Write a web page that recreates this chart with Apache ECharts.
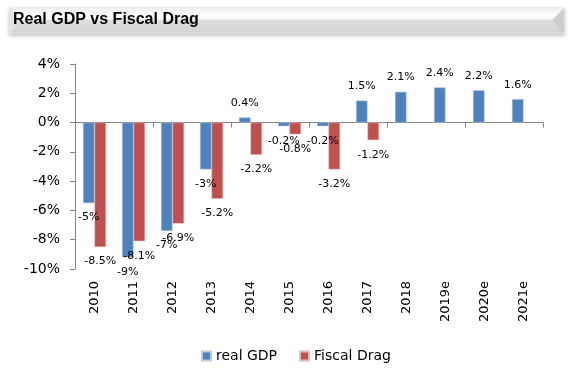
<!DOCTYPE html>
<html>
<head>
<meta charset="utf-8">
<script src="https://cdn.jsdelivr.net/npm/echarts@6/dist/echarts.min.js"></script>
<style>
html,body{margin:0;padding:0;background:#fff;}
#c{width:579px;height:371px;}
</style>
</head>
<body>
<div id="c"></div>
<script>
var categories = ['2010','2011','2012','2013','2014','2015','2016','2017','2018','2019e','2020e','2021e'];
var gdpValues = [-5.5, -9.2, -7.4, -3.2, 0.35, -0.25, -0.25, 1.5, 2.1, 2.4, 2.2, 1.6];
var gdpLabels = ['-5%','-9%','-7%','-3%','0.4%','-0.2%','-0.2%','1.5%','2.1%','2.4%','2.2%','1.6%'];
var fiscalValues = [-8.5, -8.1, -6.9, -5.2, -2.2, -0.8, -3.2, -1.2, null, null, null, null];
var fiscalLabels = ['-8.5%','-8.1%','-6.9%','-5.2%','-2.2%','-0.8%','-3.2%','-1.2%','','','',''];
var yTicks = {min: -10, max: 4, interval: 2};

var FONT = 'DejaVu Sans';
var chart = echarts.init(document.getElementById('c'), null, {renderer: 'canvas'});

function labelFor(labels) {
  return {
    show: true,
    fontFamily: FONT,
    fontSize: 11,
    color: '#000',
    distance: 9,
    formatter: function (p) { return labels[p.dataIndex]; }
  };
}
function mkData(vals) {
  return vals.map(function (v) {
    if (v === null) return null;
    return {value: v, label: {position: v < 0 ? 'bottom' : 'top'}};
  });
}

var option = {
  animation: false,
  backgroundColor: '#ffffff',
  graphic: [
    {
      type: 'rect',
      shape: {x: 10, y: 8, width: 554, height: 25},
      style: {
        fill: new echarts.graphic.LinearGradient(0, 0, 0, 1, [
          {offset: 0, color: '#ffffff'},
          {offset: 0.44, color: '#fafafa'},
          {offset: 0.5, color: '#dedede'},
          {offset: 1, color: '#d4d4d4'}
        ]),
        stroke: '#e8e8e8',
        lineWidth: 1,
        shadowBlur: 4,
        shadowOffsetY: 2,
        shadowColor: 'rgba(0,0,0,0.25)'
      },
      z: 10
    },
    {
      type: 'polygon',
      shape: {points: [[564, 8], [564, 33], [552, 20]]},
      style: {fill: '#cdcdcd'},
      z: 11
    },
    {
      type: 'polygon',
      shape: {points: [[10, 8], [10, 33], [14, 29], [14, 12]]},
      style: {fill: '#e4e4e4'},
      z: 11
    },
    {
      type: 'text',
      left: 13,
      top: 12,
      style: {
        text: 'Real GDP vs Fiscal Drag',
        fontFamily: 'Liberation Sans',
        fontWeight: 'bold',
        fontSize: 16,
        fill: '#000'
      },
      z: 12
    }
  ],
  legend: {
    left: 196,
    top: 344,
    itemWidth: 9,
    itemHeight: 9,
    itemGap: 22,
    icon: 'rect',
    textStyle: {fontFamily: FONT, fontSize: 14, color: '#000', padding: [0, 0, 0, 0]},
    data: ['real GDP', 'Fiscal Drag']
  },
  grid: {left: 75, right: 36, top: 64, bottom: 102, containLabel: false},
  xAxis: [
    {
      type: 'category',
      data: categories,
      position: 'bottom',
      axisLine: {show: false, onZero: false},
      axisTick: {show: false},
      axisLabel: {
        rotate: 90,
        margin: 12,
        fontFamily: FONT,
        fontSize: 13,
        color: '#000',
        interval: 0
      }
    },
    {
      type: 'category',
      data: categories,
      position: 'bottom',
      axisLine: {show: true, onZero: true, lineStyle: {color: '#868686', width: 1}},
      axisTick: {show: true, length: 5, lineStyle: {color: '#868686'}},
      axisLabel: {show: false}
    }
  ],
  yAxis: {
    type: 'value',
    min: yTicks.min,
    max: yTicks.max,
    interval: yTicks.interval,
    splitLine: {show: false},
    axisLine: {show: true, lineStyle: {color: '#868686'}},
    axisTick: {show: true, length: 5, lineStyle: {color: '#868686'}},
    axisLabel: {
      fontFamily: FONT,
      fontSize: 14,
      color: '#000',
      margin: 15,
      formatter: function (v) { return v + '%'; }
    }
  },
  series: [
    {
      name: 'real GDP',
      type: 'bar',
      xAxisIndex: 0,
      barWidth: 11.5,
      barGap: '0%',
      itemStyle: {color: '#4f81bd', borderColor: '#b9cde5', borderWidth: 0.5},
      label: labelFor(gdpLabels),
      data: mkData(gdpValues)
    },
    {
      name: 'Fiscal Drag',
      type: 'bar',
      xAxisIndex: 0,
      barWidth: 11.5,
      barGap: '0%',
      itemStyle: {color: '#c0504d', borderColor: '#e6b9b8', borderWidth: 0.5},
      label: labelFor(fiscalLabels),
      data: mkData(fiscalValues)
    }
  ]
};
chart.setOption(option);
</script>
</body>
</html>
